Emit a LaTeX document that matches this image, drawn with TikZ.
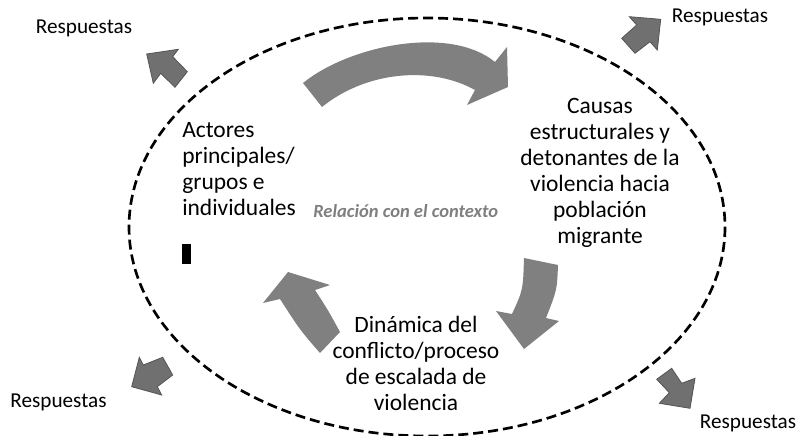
\documentclass[tikz,border=0pt]{standalone}
\usepackage{fontspec}
\setmainfont{Carlito}
\definecolor{bigarrow}{HTML}{808080}
\definecolor{smallfill}{HTML}{707070}
\definecolor{smalldraw}{HTML}{555555}
\definecolor{ctxgray}{HTML}{7F7F7F}
\begin{document}
\begin{tikzpicture}[x=0.75pt,y=-0.75pt,
  maintext/.style={font=\fontsize{17.6}{19.5}\selectfont, inner sep=0pt},
  resp/.style={font=\fontsize{15.9}{19}\selectfont, inner sep=0pt, anchor=base},
  bigarr/.style={fill=bigarrow, draw=none},
  smallarr/.style={fill=smallfill, draw=smalldraw, line width=0.6pt, line join=miter},
  ctx/.style={font=\fontsize{13.9}{16}\selectfont\bfseries\itshape, text=ctxgray, inner sep=0pt, anchor=base west}]
\useasboundingbox (0,0) rectangle (798,435);
% dashed context ellipse
\draw[line width=2pt, dash pattern=on 7.5pt off 3.75pt] (427,227) ellipse [x radius=298, y radius=209];
% big curved arrows
\fill[bigarr] (303,83) .. controls (350,45) and (450,25) .. (495,62) -- (507,47) -- (508,87) -- (467,105) -- (475,90) .. controls (430,65) and (365,72) .. (322,107) -- cycle;
\fill[bigarr] (524,258) -- (558,265) .. controls (557,290) .. (546,318) -- (559,321) -- (524,349) -- (496,311) -- (512,314) .. controls (523,290) .. (524,258) -- cycle;
\fill[bigarr] (320,353) .. controls (300,330) .. (280,299) -- (263,303) -- (288,272) -- (330,285) -- (315,290) .. controls (328,310) .. (340,332) -- cycle;
% small arrows
\filldraw[smallarr] (146.7,54) -- (178.3,49.3) -- (172.7,56.7) -- (187.3,71.7) -- (175,87.3) -- (160.7,73.3) -- (153.3,83.3) -- cycle;
\filldraw[smallarr] (660.7,19.3) -- (629.3,16.7) -- (636.7,25) -- (621.7,38.3) -- (635,53.3) -- (650,41.7) -- (657.3,50) -- cycle;
\filldraw[smallarr] (131.7,386.7) -- (139.3,357.3) -- (143.3,365) -- (162.7,357.3) -- (172.7,375) -- (157.3,386.7) -- (161.7,395) -- cycle;
\filldraw[smallarr] (656.7,379.3) -- (671.7,368.3) -- (681.7,383.3) -- (695,378.3) -- (690,408.3) -- (659.3,403.3) -- (669.3,392.7) -- cycle;
% texts
\node[maintext, anchor=north west, align=left] (actores) at (182,122) {Actores\\principales/\\grupos e\\individuales};
\node[maintext, anchor=north, align=center] (causas) at (600,98) {Causas\\estructurales y\\detonantes de la\\violencia hacia\\población\\migrante};
\node[maintext, anchor=north, align=center] (dinamica) at (416,316) {Dinámica del\\conflicto/proceso\\de escalada de\\violencia};
\node[ctx] (contexto) at (313,217) {Relación con el contexto};
\fill (181.7,244) rectangle (191,264);
\node[resp] (r1) at (84,34) {Respuestas};
\node[resp] (r2) at (720,23) {Respuestas};
\node[resp] (r3) at (58.5,407) {Respuestas};
\node[resp] (r4) at (748,428) {Respuestas};
\end{tikzpicture}
\end{document}
